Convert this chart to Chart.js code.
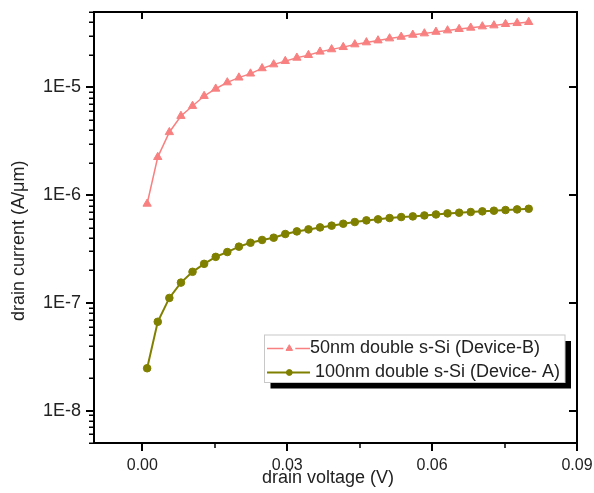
<!DOCTYPE html>
<html>
<head>
<meta charset="utf-8">
<script src="https://cdn.jsdelivr.net/npm/chart.js@4.4.1/dist/chart.umd.min.js"></script>
<style>
  html, body { margin: 0; padding: 0; background: #fff; }
  #wrap { width: 594px; height: 493px; }
</style>
</head>
<body>
<div id="wrap"><canvas id="chart" width="594" height="493"></canvas></div>
<script>
// Drain voltage sweep (V)
const drainVoltage = [
  0.001, 0.0032, 0.0056, 0.008, 0.0104, 0.0128, 0.0152, 0.0176, 0.02, 0.0224,
  0.0248, 0.0272, 0.0296, 0.032, 0.0344, 0.0368, 0.0392, 0.0416, 0.044, 0.0464,
  0.0488, 0.0512, 0.0536, 0.056, 0.0584, 0.0608, 0.0632, 0.0656, 0.068, 0.0704,
  0.0728, 0.0752, 0.0776, 0.08
];

// Drain current (A/um), 50nm double s-Si (Device-B)
const currentDeviceB = [
  8.3e-7, 2.25e-6, 3.83e-6, 5.42e-6, 6.71e-6, 8.3e-6, 9.7e-6, 1.11e-5, 1.23e-5, 1.34e-5,
  1.50e-5, 1.63e-5, 1.75e-5, 1.88e-5, 1.99e-5, 2.14e-5, 2.25e-5, 2.36e-5, 2.50e-5, 2.61e-5,
  2.72e-5, 2.84e-5, 2.94e-5, 3.07e-5, 3.16e-5, 3.27e-5, 3.37e-5, 3.47e-5, 3.57e-5, 3.67e-5,
  3.75e-5, 3.86e-5, 3.94e-5, 4.03e-5
];

// Drain current (A/um), 100nm double s-Si (Device-A)
const currentDeviceA = [
  2.47e-8, 6.67e-8, 1.11e-7, 1.54e-7, 1.94e-7, 2.30e-7, 2.67e-7, 2.96e-7, 3.32e-7, 3.61e-7,
  3.83e-7, 4.02e-7, 4.35e-7, 4.60e-7, 4.80e-7, 5.01e-7, 5.20e-7, 5.42e-7, 5.62e-7, 5.82e-7,
  5.95e-7, 6.12e-7, 6.25e-7, 6.34e-7, 6.47e-7, 6.61e-7, 6.76e-7, 6.86e-7, 6.96e-7, 7.06e-7,
  7.16e-7, 7.26e-7, 7.36e-7, 7.46e-7
];

const seriesLabels = ['50nm double s-Si (Device-B)', '100nm double s-Si (Device- A)'];

const xTickValues = [0, 0.03, 0.06, 0.09];
const xMinorTickValues = [0.015, 0.045, 0.075];
const yTickValues = [1e-8, 1e-7, 1e-6, 1e-5];

const xTitle = 'drain voltage (V)';
const yTitle = 'drain current (A/\u03BCm)';

const FONT = '"Liberation Sans", Arial, Helvetica, sans-serif';
const TEXT_COLOR = '#222';
const COLOR_B = '#F88080';
const COLOR_A = '#808000';

function toPoints(xs, ys) {
  return xs.map((x, i) => ({ x: x, y: ys[i] }));
}

// Axis frame, tick marks, axis titles and the boxed legend
const framePlugin = {
  id: 'frame',
  afterDraw(chart) {
    const ctx = chart.ctx;
    const area = chart.chartArea;
    const xs = chart.scales.x;
    const ys = chart.scales.y;
    ctx.save();
    ctx.strokeStyle = '#000';
    ctx.lineCap = 'butt';

    // box
    ctx.lineWidth = 2;
    ctx.strokeRect(area.left, area.top, area.right - area.left, area.bottom - area.top);

    // left axis: major ticks out, minor ticks out; right axis: major ticks in
    ctx.lineWidth = 2;
    ctx.beginPath();
    yTickValues.forEach(v => {
      const py = Math.round(ys.getPixelForValue(v));
      ctx.moveTo(area.left - 8, py); ctx.lineTo(area.left, py);
      ctx.moveTo(area.right - 8, py); ctx.lineTo(area.right, py);
    });
    ctx.stroke();
    ctx.lineWidth = 1.5;
    ctx.beginPath();
    for (let e = -9; e <= -5; e++) {
      for (let m = 2; m <= 9; m++) {
        const v = m * Math.pow(10, e);
        if (v < ys.min * 0.999 || v > ys.max * 1.001) continue;
        const py = Math.round(ys.getPixelForValue(v)) + 0.25;
        ctx.moveTo(area.left - 5, py); ctx.lineTo(area.left, py);
      }
    }
    ctx.stroke();

    // bottom axis: major and minor ticks out; top axis: major ticks in
    ctx.lineWidth = 2;
    ctx.beginPath();
    xTickValues.forEach(v => {
      const px = Math.round(xs.getPixelForValue(v));
      ctx.moveTo(px, area.bottom); ctx.lineTo(px, area.bottom + 8);
      ctx.moveTo(px, area.top); ctx.lineTo(px, area.top + 7);
    });
    ctx.stroke();
    ctx.lineWidth = 1.5;
    ctx.beginPath();
    xMinorTickValues.forEach(v => {
      const px = Math.round(xs.getPixelForValue(v));
      ctx.moveTo(px, area.bottom); ctx.lineTo(px, area.bottom + 5);
    });
    ctx.stroke();

    // axis titles
    ctx.fillStyle = TEXT_COLOR;
    ctx.font = '18px ' + FONT;
    ctx.textAlign = 'center';
    ctx.textBaseline = 'alphabetic';
    ctx.fillText(xTitle, 328, 483);
    ctx.save();
    ctx.translate(23.5, 321);
    ctx.rotate(-Math.PI / 2);
    ctx.textAlign = 'left';
    ctx.fillText(yTitle, 0, 0);
    ctx.restore();

    // legend with drop shadow
    const lg = { x: 264.5, y: 335, w: 300.5, h: 47.5, shadow: 6 };
    ctx.fillStyle = '#000';
    ctx.fillRect(lg.x + lg.shadow, lg.y + lg.shadow, lg.w, lg.h);
    ctx.fillStyle = '#fff';
    ctx.fillRect(lg.x, lg.y, lg.w, lg.h);
    ctx.strokeStyle = '#c8c8c8';
    ctx.lineWidth = 1;
    ctx.strokeRect(lg.x, lg.y, lg.w, lg.h);

    const rows = [
      { y: 348.5, textX: 310, gap: 6 },
      { y: 372.5, textX: 315, gap: 0 }
    ];
    const sx0 = 267, sx1 = 310, mx = 289.3;
    chart.data.datasets.forEach((ds, i) => {
      const r = rows[i];
      ctx.strokeStyle = ds.borderColor;
      ctx.lineWidth = ds.borderWidth;
      ctx.beginPath();
      ctx.moveTo(sx0, r.y); ctx.lineTo(mx - r.gap, r.y);
      ctx.moveTo(mx + r.gap, r.y); ctx.lineTo(sx1, r.y);
      ctx.stroke();
      ctx.fillStyle = ds.backgroundColor;
      ctx.lineWidth = 1;
      Chart.helpers.drawPoint(ctx, {
        pointStyle: ds.pointStyle,
        radius: ds.pointStyle === 'triangle' ? 3.8 : 2.9,
        borderWidth: 1,
        rotation: 0
      }, mx, r.y);
      ctx.fillStyle = TEXT_COLOR;
      ctx.font = '18px ' + FONT;
      ctx.textAlign = 'left';
      ctx.textBaseline = 'middle';
      ctx.fillText(ds.label, r.textX, r.y);
    });
    ctx.restore();
  }
};

new Chart(document.getElementById('chart'), {
  type: 'line',
  data: {
    datasets: [
      {
        label: seriesLabels[0],
        data: toPoints(drainVoltage, currentDeviceB),
        borderColor: COLOR_B,
        backgroundColor: COLOR_B,
        borderWidth: 1.5,
        pointStyle: 'triangle',
        pointRadius: 4.8,
        pointBorderWidth: 1,
        pointHoverRadius: 4.8,
        tension: 0
      },
      {
        label: seriesLabels[1],
        data: toPoints(drainVoltage, currentDeviceA),
        borderColor: COLOR_A,
        backgroundColor: COLOR_A,
        borderWidth: 2,
        pointStyle: 'circle',
        pointRadius: 3.8,
        pointBorderWidth: 1,
        pointHoverRadius: 3.8,
        tension: 0
      }
    ]
  },
  options: {
    responsive: false,
    devicePixelRatio: 1,
    animation: false,
    events: [],
    layout: { padding: { top: 12, right: 17, left: 0, bottom: 0 } },
    plugins: {
      legend: { display: false },
      tooltip: { enabled: false },
      title: { display: false }
    },
    scales: {
      x: {
        type: 'linear',
        min: -0.01,
        max: 0.09,
        grid: { display: false, drawTicks: false },
        border: { display: false },
        afterBuildTicks(scale) {
          scale.ticks = xTickValues.map(v => ({ value: v }));
        },
        afterFit(scale) {
          scale.height = 50;
          scale.paddingLeft = 0;
          scale.paddingRight = 0;
        },
        ticks: {
          autoSkip: false,
          maxRotation: 0,
          padding: 13,
          color: TEXT_COLOR,
          font: { family: FONT, size: 16 },
          callback: v => Number(v).toFixed(2)
        }
      },
      y: {
        type: 'logarithmic',
        min: 5e-9,
        max: 5e-5,
        grid: { display: false, drawTicks: false },
        border: { display: false },
        afterBuildTicks(scale) {
          scale.ticks = yTickValues.map(v => ({ value: v, major: true }));
        },
        afterFit(scale) {
          scale.width = 94;
          scale.paddingTop = 0;
          scale.paddingBottom = 0;
        },
        ticks: {
          autoSkip: false,
          padding: 13,
          color: TEXT_COLOR,
          font: { family: FONT, size: 18 },
          callback: v => '1E' + Math.round(Math.log10(v))
        }
      }
    }
  },
  plugins: [framePlugin]
});
</script>
</body>
</html>
